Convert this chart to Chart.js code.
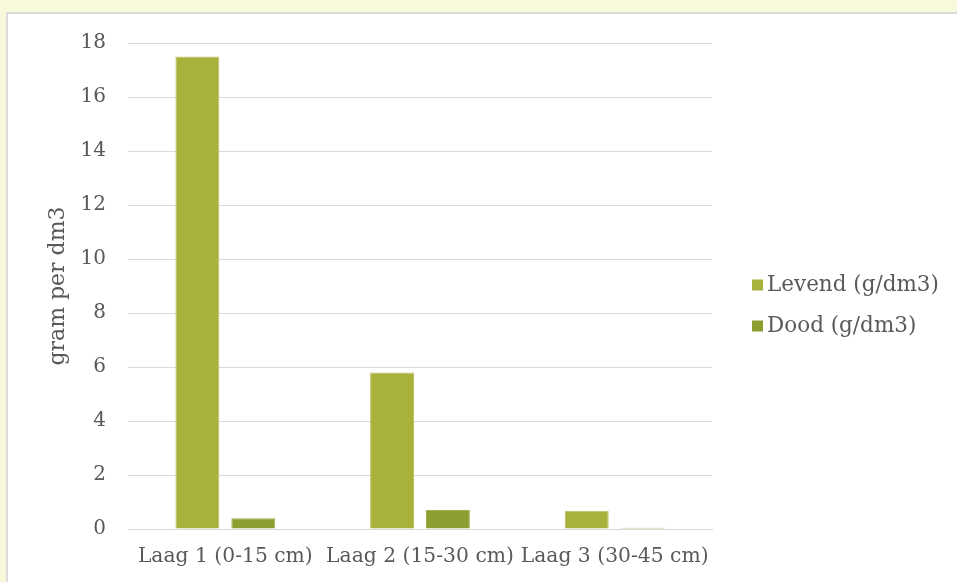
<!DOCTYPE html>
<html>
<head>
<meta charset="utf-8">
<script src="https://cdn.jsdelivr.net/npm/chart.js@4"></script>
<style>
  html, body { margin: 0; padding: 0; background: #f8f8da; }
  #wrap { width: 957px; height: 582px; }
</style>
</head>
<body>
<div id="wrap"><canvas id="rootsChart" width="957" height="582"></canvas></div>
<script>
// chart data
const layers = ['Laag 1 (0-15 cm)', 'Laag 2 (15-30 cm)', 'Laag 3 (30-45 cm)'];
const levend = [17.5, 5.8, 0.68];
const dood = [0.4, 0.7, 0.05];
const seriesNames = ['Levend (g/dm3)', 'Dood (g/dm3)'];

const textColor = '#595959';
const gridColor = '#d9d9d9';
const serif = 'DejaVu Serif';

// yellow page with the white chart panel on top
const panelBg = {
    id: 'panelBg',
    beforeDraw(chart) {
        const ctx = chart.ctx;
        ctx.save();
        ctx.fillStyle = '#f8f8da';
        ctx.fillRect(0, 0, chart.width, chart.height);
        ctx.fillStyle = '#ffffff';
        ctx.fillRect(7, 13, chart.width, chart.height);
        ctx.strokeStyle = '#dcdcdc';
        ctx.lineWidth = 2;
        ctx.strokeRect(7, 13, chart.width + 10, chart.height + 10);
        ctx.restore();
    }
};

// legend on the right, Excel style (small square, tight gap)
const sideLegend = {
    id: 'sideLegend',
    afterDraw(chart) {
        const ctx = chart.ctx;
        const x = 752, firstRow = 285, rowStep = 41, box = 11;
        ctx.save();
        ctx.font = '21.5px "' + serif + '"';
        ctx.textBaseline = 'middle';
        chart.data.datasets.forEach((ds, i) => {
            const y = firstRow + i * rowStep;
            ctx.fillStyle = ds.backgroundColor;
            ctx.fillRect(x, y - box / 2, box, box);
            ctx.fillStyle = textColor;
            ctx.fillText(ds.label, x + box + 4, y);
        });
        ctx.restore();
    }
};

const ctx = document.getElementById('rootsChart').getContext('2d');
new Chart(ctx, {
    type: 'bar',
    data: {
        labels: layers,
        datasets: [
            {
                label: seriesNames[0],
                data: levend,
                backgroundColor: '#a8b13b',
                borderColor: '#b9c160',
                borderWidth: 1,
                barPercentage: 0.786,
                categoryPercentage: 0.574
            },
            {
                label: seriesNames[1],
                data: dood,
                backgroundColor: '#8e9d30',
                borderColor: '#a3b04f',
                borderWidth: 1,
                barPercentage: 0.786,
                categoryPercentage: 0.574
            }
        ]
    },
    options: {
        responsive: false,
        animation: false,
        layout: {
            padding: { left: 45, top: 43, right: 245, bottom: 0 }
        },
        plugins: {
            tooltip: { enabled: false },
            legend: { display: false }
        },
        scales: {
            x: {
                grid: { display: false, drawTicks: false },
                border: { display: true, color: gridColor },
                ticks: {
                    color: textColor,
                    padding: 16,
                    maxRotation: 0,
                    font: { family: serif, size: 20.3 }
                },
                afterFit(scale) { scale.height = 53; }
            },
            y: {
                min: 0,
                max: 18,
                grid: { color: gridColor, drawTicks: false },
                border: { display: false },
                ticks: {
                    stepSize: 2,
                    color: textColor,
                    padding: 22,
                    font: { family: serif, size: 20 }
                },
                title: {
                    display: true,
                    text: 'gram per dm3',
                    color: textColor,
                    padding: 0,
                    font: { family: serif, size: 22 }
                },
                afterFit(scale) { scale.width = 83; }
            }
        }
    },
    plugins: [panelBg, sideLegend]
});
</script>
</body>
</html>
